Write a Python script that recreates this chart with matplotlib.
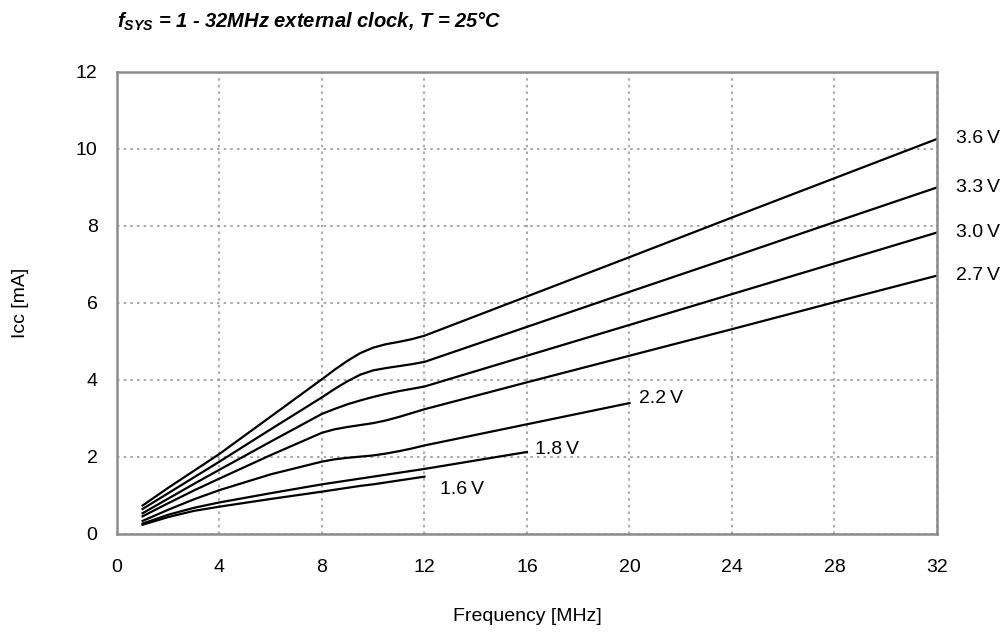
import numpy as np
import matplotlib
matplotlib.use("Agg")
import matplotlib.pyplot as plt

plt.rcParams['font.family'] = ['Liberation Sans', 'DejaVu Sans']
plt.rcParams['mathtext.fontset'] = 'custom'
plt.rcParams['mathtext.it'] = 'Liberation Sans:italic:bold'
plt.rcParams['mathtext.rm'] = 'Liberation Sans:italic:bold'

# Supply current vs. system clock frequency, one curve per supply voltage
freq = [1, 2, 3, 4, 6, 8, 8.5, 9, 9.5, 10, 10.5, 11, 11.5, 12, 16, 20, 24, 28, 32]

icc_36 = [0.74, 1.20, 1.64, 2.08, 3.05, 4.02, 4.27, 4.50, 4.70, 4.84, 4.93, 4.99, 5.06, 5.15, 6.17, 7.19, 8.22, 9.24, 10.26]
icc_33 = [0.65, 1.06, 1.47, 1.88, 2.72, 3.55, 3.77, 3.97, 4.14, 4.25, 4.31, 4.36, 4.41, 4.47, 5.38, 6.29, 7.19, 8.10, 9.00]
icc_30 = [0.54, 0.92, 1.30, 1.67, 2.40, 3.12, 3.25, 3.37, 3.47, 3.56, 3.64, 3.71, 3.77, 3.83, 4.63, 5.43, 6.23, 7.03, 7.83]
icc_27 = [0.46, 0.80, 1.13, 1.44, 2.05, 2.63, 2.72, 2.78, 2.83, 2.88, 2.95, 3.04, 3.14, 3.24, 3.94, 4.63, 5.32, 6.02, 6.71]
icc_22 = [0.34, 0.63, 0.90, 1.14, 1.55, 1.88, 1.94, 1.98, 2.01, 2.04, 2.09, 2.15, 2.22, 2.30, 2.85, 3.40]
icc_18 = [0.27, 0.50, 0.68, 0.82, 1.06, 1.29, 1.34, 1.39, 1.44, 1.49, 1.54, 1.59, 1.64, 1.69, 2.13]
icc_16 = [0.24, 0.44, 0.60, 0.71, 0.91, 1.10, 1.15, 1.20, 1.25, 1.29, 1.34, 1.39, 1.44, 1.49]

# label, values, label offset (points)
series = [
    ("3.6\u2009V", icc_36, (14, 0)),
    ("3.3\u2009V", icc_33, (14, 0)),
    ("3.0\u2009V", icc_30, (14, 0)),
    ("2.7\u2009V", icc_27, (14, 0)),
    ("2.2\u2009V", icc_22, (7, 3)),
    ("1.8\u2009V", icc_18, (6, 2)),
    ("1.6\u2009V", icc_16, (11, -9)),
]

fig = plt.figure(figsize=(10.05, 6.33), dpi=100)
ax = fig.add_axes([0.1164, 0.1564, 0.8159, 0.7299])

for label, icc, offset in series:
    f = freq[:len(icc)]
    ax.plot(f, icc, color="black", lw=1.6, solid_joinstyle="round")
    ax.annotate(label, xy=(f[-1], icc[-1]), xytext=offset, textcoords="offset points",
                ha="left", va="center", fontsize=14)

ax.set_xlim(0, 32)
ax.set_ylim(0, 12)
ax.set_xticks(np.arange(0, 33, 4))
ax.set_yticks(np.arange(0, 13, 2))
ax.tick_params(length=0, labelsize=14)
ax.tick_params(axis="x", pad=18)
ax.tick_params(axis="y", pad=14)
ax.grid(True, color="#999999", linestyle=(0, (1.5, 2.5)), lw=1.2)
for s in ax.spines.values():
    s.set_color("#8c8c8c")
    s.set_linewidth(1.8)

ax.set_xlabel("Frequency [MHz]", fontsize=14, labelpad=23)
ax.set_ylabel("Icc [mA]", fontsize=14, labelpad=34)

fig.text(0.1164, 0.965, r"$f_{SYS}$ = 1 - 32MHz external clock, T = 25°C",
         fontsize=14.5, fontweight="bold", fontstyle="italic", va="center", ha="left")

fig.savefig("out.png", dpi=100)
